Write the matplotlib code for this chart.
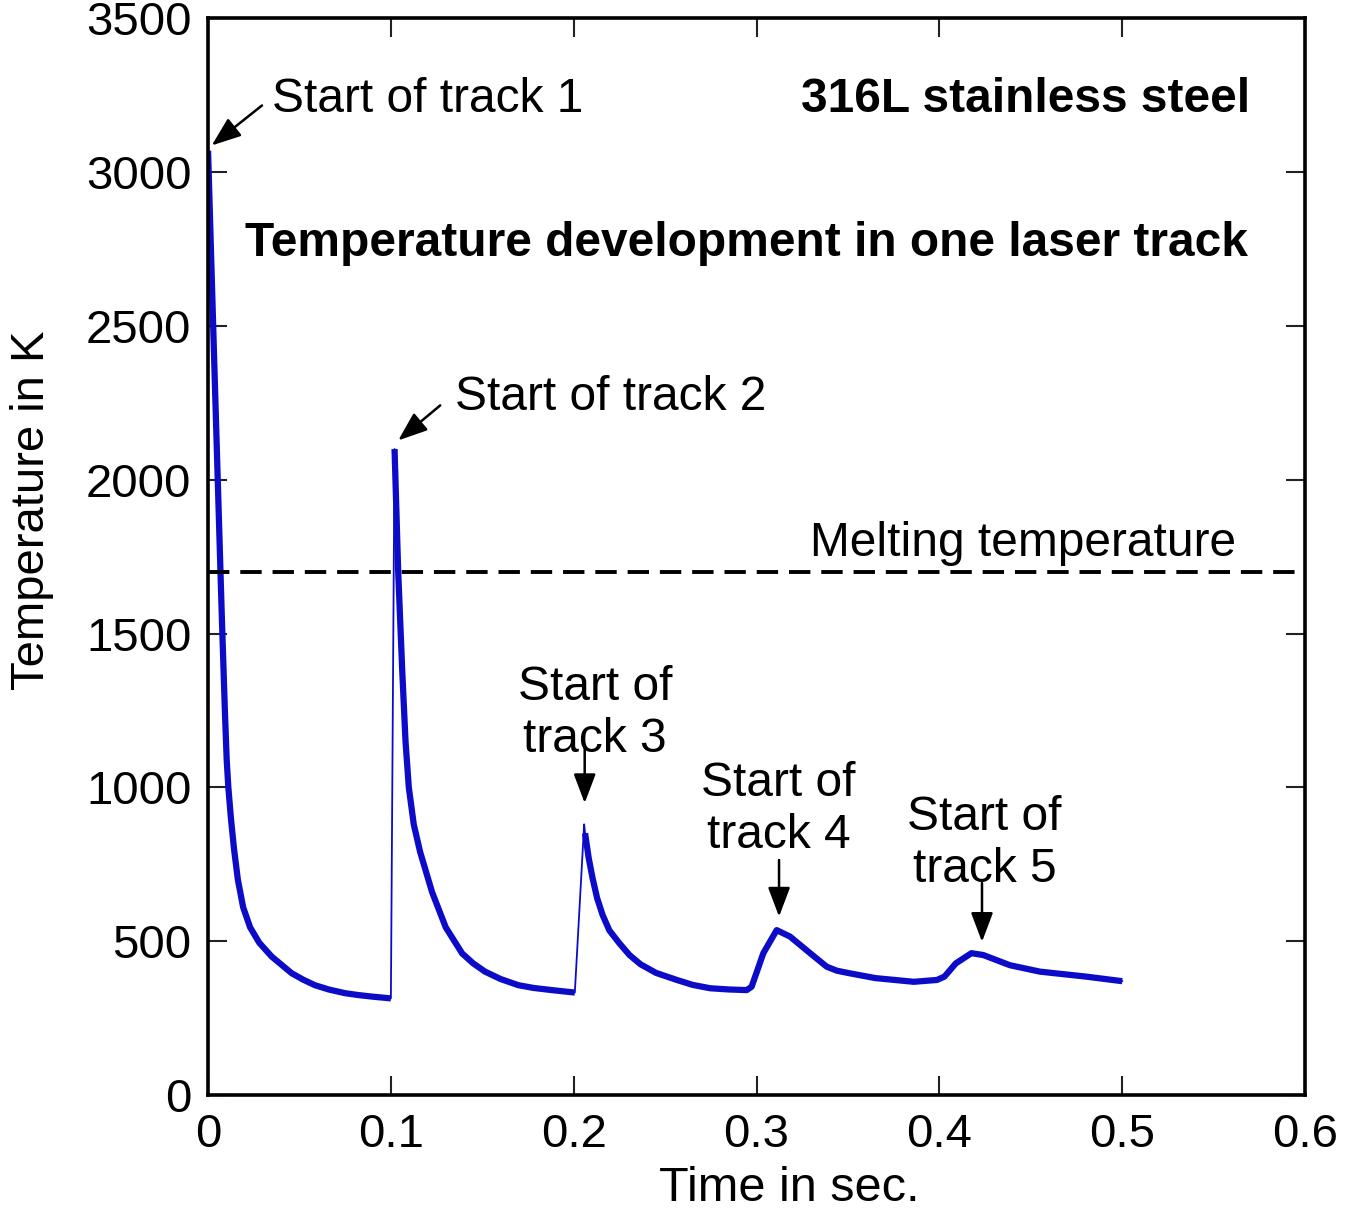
import matplotlib
matplotlib.use("Agg")
import matplotlib.pyplot as plt

plt.rcParams['font.family'] = ['Liberation Sans', 'DejaVu Sans']

# cooling curve of track 1 (time in s, temperature in K)
t_track1 = [0.0, 0.0028, 0.0055, 0.0075, 0.0092, 0.0102, 0.0111, 0.0125, 0.0142, 0.0163,
            0.0192, 0.0230, 0.0280, 0.0348, 0.0457, 0.052, 0.0584, 0.066, 0.0749, 0.082,
            0.0895, 0.1]
T_track1 = [3070, 2500, 1960, 1560, 1250, 1089, 1000, 900, 800, 700,
            610, 545, 495, 450, 396, 375, 357, 343, 331, 325,
            320, 314]

# track 2
t_track2 = [0.102, 0.104, 0.1062, 0.108, 0.1098, 0.1125, 0.116, 0.1225, 0.130, 0.139,
            0.145, 0.1515, 0.160, 0.1697, 0.178, 0.188, 0.2006]
T_track2 = [2100, 1700, 1380, 1150, 1000, 880, 790, 660, 545, 460,
            428, 401, 377, 357, 348, 341, 333]

# tip of track 3 (thin spike)
t_tip3 = [0.2057]
T_tip3 = [880]

# tracks 3, 4 and 5
t_track345 = [0.2062, 0.2082, 0.2103, 0.2128, 0.2158, 0.2195, 0.225, 0.2305, 0.2365, 0.245,
              0.2564, 0.265, 0.2746, 0.285, 0.2946,
              0.2973, 0.3037, 0.311, 0.3183, 0.3293, 0.3384, 0.344, 0.3506, 0.365, 0.386,
              0.3987, 0.4028, 0.409, 0.4175, 0.424, 0.4385, 0.455, 0.480, 0.500]
T_track345 = [851, 770, 705, 640, 585, 535, 493, 455, 425, 397,
              374, 358, 347, 343, 341,
              352, 461, 536, 515, 461, 417, 404, 396, 380, 368,
              374, 385, 428, 461, 455, 422, 401, 385, 370]

T_melt = 1700

x_ticks = [0, 0.1, 0.2, 0.3, 0.4, 0.5, 0.6]
x_ticklabels = ['0', '0.1', '0.2', '0.3', '0.4', '0.5', '0.6']
y_ticks = [0, 500, 1000, 1500, 2000, 2500, 3000, 3500]

blue = '#0c0cc8'

fig = plt.figure(figsize=(13.51, 12.11), dpi=100)
ax = fig.add_axes([0.154, 0.0958, 0.812, 0.889])

# thin connecting line (the jumps), thick curve pieces on top
ax.plot(t_track1 + t_track2 + t_tip3 + t_track345,
        T_track1 + T_track2 + T_tip3 + T_track345, color=blue, lw=1.3)
for tt, TT in [(t_track1, T_track1), (t_track2, T_track2), (t_track345, T_track345)]:
    ax.plot(tt, TT, color=blue, lw=4.5, solid_joinstyle='round', solid_capstyle='butt')

ax.axhline(T_melt, color='black', lw=2.8, ls=(0, (5.5, 2.8)))

ax.set_xlim(0, 0.6)
ax.set_ylim(0, 3500)
ax.set_xticks(x_ticks)
ax.set_xticklabels(x_ticklabels)
ax.set_yticks(y_ticks)
ax.tick_params(direction='in', length=14, width=1.5, top=True, right=True,
               labelsize=34, color='#222222')
ax.tick_params(axis='x', pad=13)
ax.tick_params(axis='y', pad=12)
for s in ax.spines.values():
    s.set_linewidth(2.6)

ax.set_xlabel('Time in sec.', fontsize=35)
ax.xaxis.set_label_coords(0.53, -0.066)
ax.set_ylabel('Temperature in K', fontsize=34)
ax.yaxis.set_label_coords(-0.140, 0.543)

fs = 34.5
ax.text(0.035, 3195, 'Start of track 1', fontsize=fs, va='baseline')
ax.text(0.570, 3195, '316L stainless steel', fontsize=34.5, fontweight='bold',
        ha='right', va='baseline')
ax.text(0.020, 2727, 'Temperature development in one laser track', fontsize=34.5,
        fontweight='bold', va='baseline')
ax.text(0.135, 2226, 'Start of track 2', fontsize=fs, va='baseline')
ax.text(0.329, 1752, 'Melting temperature', fontsize=fs, va='baseline')
# baseline of the last line
ax.text(0.2117, 1115, 'Start of\ntrack 3', fontsize=fs, ha='center', va='baseline')
ax.text(0.312, 803, 'Start of\ntrack 4', fontsize=fs, ha='center', va='baseline')
ax.text(0.4247, 692, 'Start of\ntrack 5', fontsize=fs, ha='center', va='baseline')

arrow = dict(arrowstyle='-|>,head_length=0.9,head_width=0.34', color='black',
             lw=1.8, shrinkA=0, shrinkB=0, mutation_scale=20)
for tail, tip in [((0.0295, 3217), (0.002, 3087)),
                  ((0.127, 2242), (0.104, 2128)),
                  ((0.206, 1132), (0.206, 949)),
                  ((0.3123, 764), (0.3123, 580)),
                  ((0.4233, 689), (0.4233, 498))]:
    ax.annotate('', xy=tip, xytext=tail, arrowprops=arrow)

fig.savefig('out.png', dpi=100)
